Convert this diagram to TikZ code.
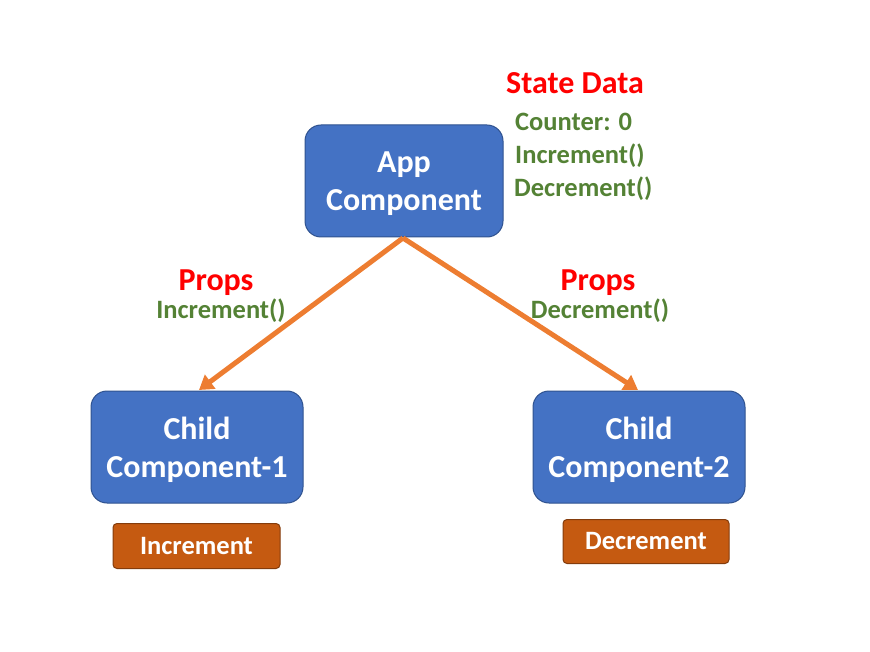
\documentclass[tikz,border=0pt]{standalone}
\usepackage{fontspec}
\setmainfont{Carlito}
\usetikzlibrary{arrows.meta}
\definecolor{boxblue}{HTML}{4472C4}
\definecolor{boxedge}{HTML}{2F528F}
\definecolor{btnfill}{HTML}{C55A11}
\definecolor{btnedge}{HTML}{843C0C}
\definecolor{arrowor}{HTML}{ED7D31}
\definecolor{txtgreen}{HTML}{548235}
\definecolor{txtred}{HTML}{FF0000}
\begin{document}
\begin{tikzpicture}[x=1pt,y=-1pt,
  comp/.style={draw=boxedge,line width=1pt,fill=boxblue,rounded corners=16pt,inner sep=0pt},
  comptext/.style={text=white,font=\fontsize{32}{38}\selectfont\bfseries,align=center,inner sep=0pt,yshift=-3pt},
  btn/.style={draw=btnedge,line width=1pt,fill=btnfill,rounded corners=4pt,text=white,font=\fontsize{26.5}{28}\selectfont\bfseries,inner sep=0pt},
  redlbl/.style={text=txtred,font=\fontsize{32}{34}\selectfont\bfseries,inner sep=0pt},
  greenlbl/.style={text=txtgreen,font=\fontsize{26.5}{28}\selectfont\bfseries,inner sep=0pt},
  flow/.style={draw=arrowor,line width=5pt,-{Triangle[length=14pt,width=17pt]}}
]
\useasboundingbox (0,0) rectangle (870,652);
\node[comp,minimum width=198pt,minimum height=112pt,label={[comptext]center:{App\\Component}}] (app) at (404,181) {};
\node[comp,minimum width=212pt,minimum height=112pt,label={[comptext]center:{Child\\Component-1}}] (c1) at (197,447) {};
\node[comp,minimum width=212pt,minimum height=112pt,label={[comptext]center:{Child\\Component-2}}] (c2) at (639,447) {};
\node[btn,minimum width=167pt,minimum height=45pt] (b1) at (196.5,546) {Increment};
\node[btn,minimum width=166pt,minimum height=44pt] (b2) at (646,541.5) {Decrement};
\node[redlbl] (sd) at (575,83) {State Data};
\node[greenlbl,anchor=west] (s1) at (515,121.5) {Counter: 0};
\node[greenlbl,anchor=west] (s2) at (515,155.5) {Increment()};
\node[greenlbl,anchor=west] (s3) at (514,188.5) {Decrement()};
\node[redlbl] (p1) at (216,283) {Props};
\node[greenlbl] (i1) at (221,310.5) {Increment()};
\node[redlbl] (p2) at (598,283) {Props};
\node[greenlbl] (d2) at (600,310.5) {Decrement()};
\coordinate (top) at (403,238);
\coordinate (e1) at (199,390);
\coordinate (e2) at (638,390);
\draw[flow] (top) -- (e1);
\draw[flow] (top) -- (e2);
\end{tikzpicture}
\end{document}
